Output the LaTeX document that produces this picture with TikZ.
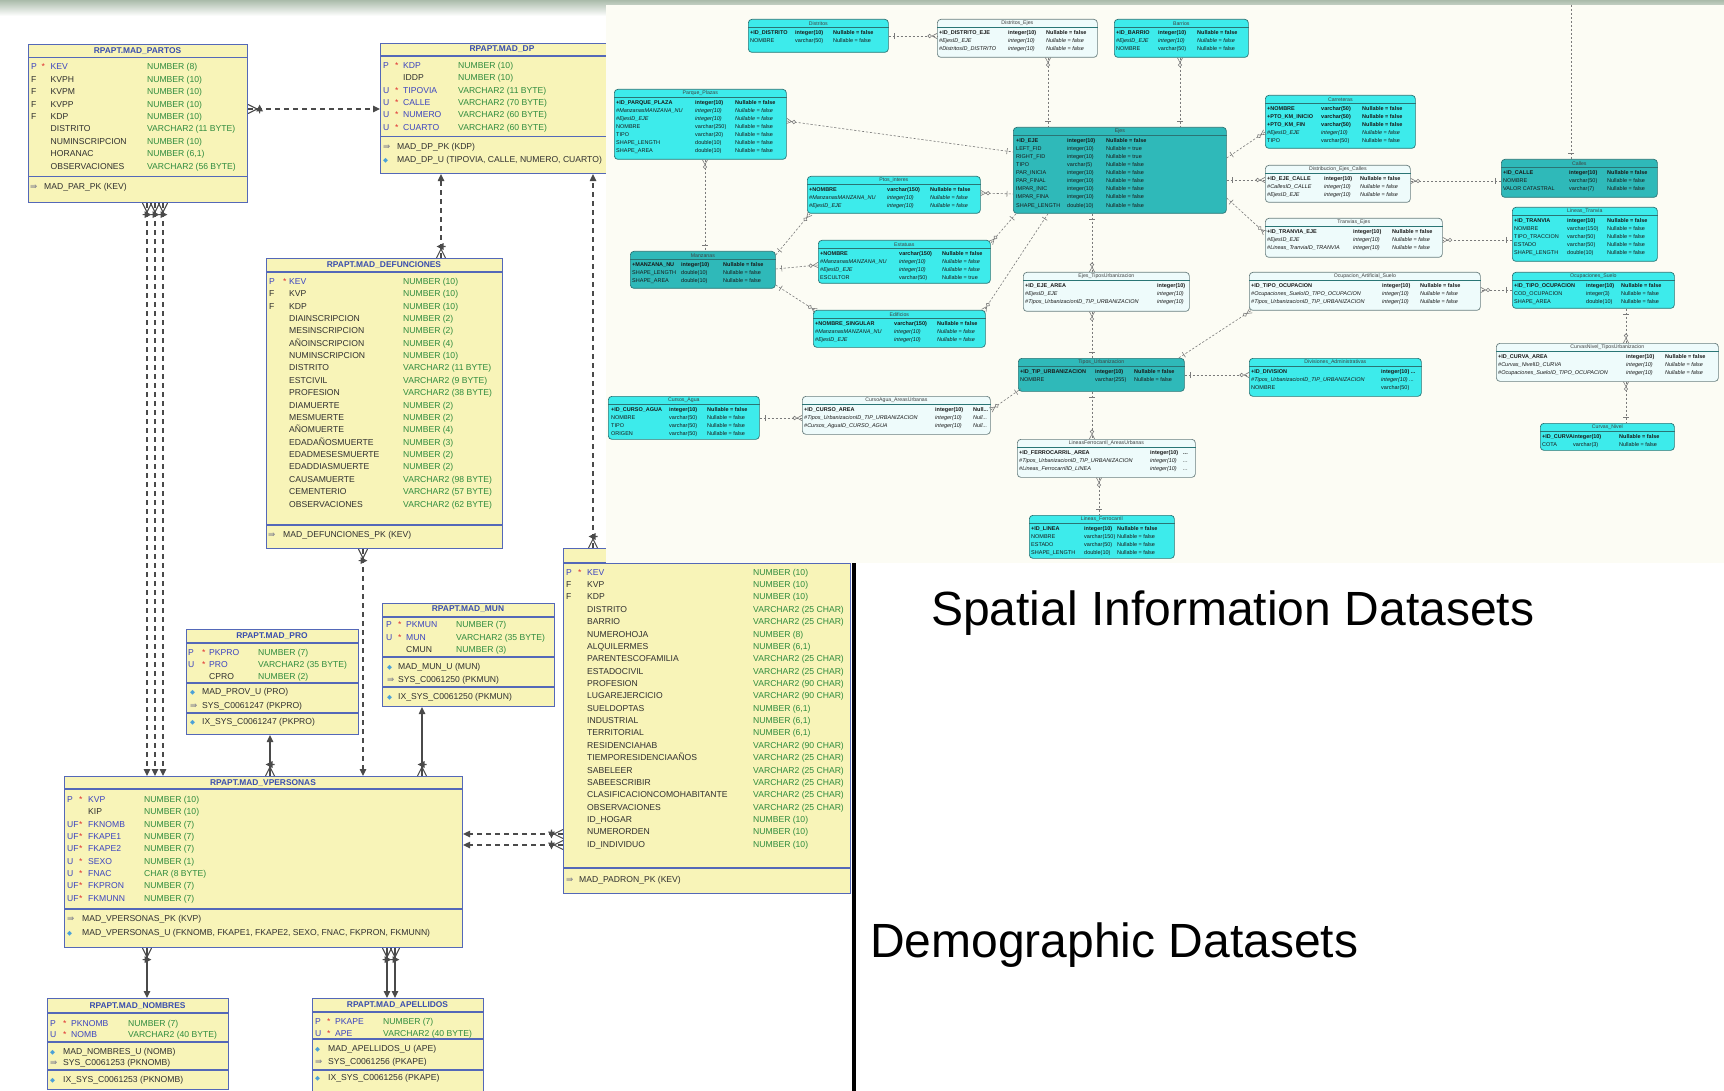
\documentclass[tikz,border=0pt]{standalone}
\usepackage{fontspec}
\setmainfont{Liberation Sans}
\newfontfamily\dvfont{DejaVu Sans}
\usetikzlibrary{arrows.meta,decorations.markings}
\definecolor{yfill}{HTML}{F8F4B8}
\definecolor{ybord}{HTML}{5468B8}
\definecolor{tblue}{HTML}{3A4EAE}
\definecolor{kblue}{HTML}{3C44C0}
\definecolor{tgreen}{HTML}{2E8B3E}
\definecolor{nblack}{HTML}{303030}
\definecolor{sred}{HTML}{E03030}
\definecolor{lcol}{HTML}{4A4A4A}
\definecolor{panel}{HTML}{FCFCF4}
\definecolor{topg}{HTML}{AABBAA}
\definecolor{cbr}{HTML}{3DEBEB}
\definecolor{cdk}{HTML}{2FB9B9}
\definecolor{clt}{HTML}{EEFBFB}
\definecolor{cbd}{HTML}{2A7575}
\definecolor{cltb}{HTML}{6A8080}
\definecolor{rline}{HTML}{7A7A7A}
\definecolor{pkgray}{HTML}{7A7A8A}
\definecolor{ublue}{HTML}{4AA0D8}
\newlength\ylA \newlength\ylB \newlength\ylC \newlength\clA \newlength\clB \newlength\ixW
\newcommand\ysetw[3]{\global\ylA=#1pt\relax\global\ylB=#2pt\relax\global\ylC=#3pt\relax}
\newcommand\isetw[1]{\global\ixW=#1pt\relax}
\newcommand\yr[4]{\strut\makebox[\ylA][l]{#1}\makebox[\ylB][l]{#2}\makebox[\ylC][l]{#3}\textcolor{tgreen}{#4}}
\newcommand\kP{\textcolor{kblue}{P}}
\newcommand\kU{\textcolor{kblue}{U}}
\newcommand\kF{\textcolor{nblack}{F}}
\newcommand\kUF{\textcolor{kblue}{UF}}
\newcommand\stR{\textcolor{sred}{*}}
\newcommand\kn[1]{\textcolor{kblue}{#1}}
\newcommand\nn[1]{\textcolor{nblack}{#1}}
\newcommand\ipk{{\dvfont\textcolor{pkgray}{⇛}}}
\newcommand\iu{{\dvfont\fontsize{6.5}{6.5}\selectfont\textcolor{ublue}{◆}}}
\newcommand\ix[2]{\strut\makebox[\ixW][l]{#1}\textcolor{nblack}{#2}}
\newcommand\cnr[3]{\strut\makebox[\clA][l]{#1}\makebox[\clB][l]{#2}#3}
\newcommand\cbf[3]{\strut\makebox[\clA][l]{\bfseries #1}\makebox[\clB][l]{\bfseries #2}{\bfseries #3}}
\newcommand\cit[3]{\strut\makebox[\clA][l]{\itshape #1}\makebox[\clB][l]{\itshape #2}{\itshape #3}}
\newcommand\ctab[7]{\node[#6, minimum width=#4pt, minimum height=#5pt] (#1) at (#2,#3) {};
  \node[ctitle, yshift=-4.5pt] (#1-t) at (#1.north) {#7};
  \draw[csep] ([yshift=-8.5pt]#1.north west) -- ([yshift=-8.5pt]#1.north east);}
\newcommand\crows[6]{\global\clA=#4pt\relax\global\clB=#5pt\relax\node[cbody] (#1-b) at (#2,#3) {#6};}
\tikzset{
  ybox/.style={draw=ybord, fill=yfill, line width=1.1pt, inner sep=0pt, anchor=north west},
  ysep/.style={draw=ybord, line width=1.1pt},
  ytitle/.style={font=\fontsize{8.4}{10}\selectfont\bfseries, text=tblue, inner sep=0pt},
  ybody/.style={anchor=north west, inner sep=0pt, align=left, font=\fontsize{8.6}{12.38}\selectfont},
  yidx/.style={anchor=north west, inner sep=0pt, align=left},
  lcon/.style={draw=lcol, line width=1.2pt, dash pattern=on 5pt off 4pt},
  lsol/.style={draw=lcol, line width=1.2pt},
  arrowend/.style={-{Triangle[length=7pt,width=6.5pt]}},
  cfs/.style={postaction={decorate,decoration={markings,mark=at position 0 with {\draw[solid,draw=lcol,line width=1.1pt] (9,0)--(0,4.5) (9,0)--(0,-4.5) (11.5,4.5)--(11.5,-4.5);}}}},
  cbright/.style={draw=cbd, fill=cbr, rounded corners=3.5pt, line width=.7pt, inner sep=0pt, anchor=north west},
  cdark/.style={draw=cbd, fill=cdk, rounded corners=3.5pt, line width=.7pt, inner sep=0pt, anchor=north west},
  clight/.style={draw=cltb, fill=clt, rounded corners=3.5pt, line width=.7pt, inner sep=0pt, anchor=north west},
  ctitle/.style={font=\fontsize{5.2}{6}\selectfont, text=black!75, inner sep=0pt},
  csep/.style={draw=cbd, line width=.5pt},
  cbody/.style={anchor=north west, inner sep=0pt, align=left, font=\fontsize{5.5}{8.05}\selectfont, text=black!90},
  rcon/.style={draw=rline, line width=.6pt, dash pattern=on 2.2pt off 1.8pt},
  r1s/.style={postaction={decorate,decoration={markings,mark=at position 0 with {\draw[solid,draw=rline,line width=.6pt] (6,3)--(6,-3);}}}},
  r1e/.style={postaction={decorate,decoration={markings,mark=at position 1 with {\draw[solid,draw=rline,line width=.6pt] (-6,3)--(-6,-3);}}}},
  rMs/.style={postaction={decorate,decoration={markings,mark=at position 0 with {\draw[solid,draw=rline,line width=.6pt] (5,0)--(0,2.6) (5,0)--(0,-2.6); \draw[solid,draw=rline,fill=panel,line width=.6pt] (7.3,0) circle[radius=1.8pt];}}}},
  rMe/.style={postaction={decorate,decoration={markings,mark=at position 1 with {\draw[solid,draw=rline,line width=.6pt] (-5,0)--(0,2.6) (-5,0)--(0,-2.6); \draw[solid,draw=rline,fill=panel,line width=.6pt] (-7.3,0) circle[radius=1.8pt];}}}},
  bigtext/.style={font=\fontsize{48}{56}\selectfont, inner sep=0pt, anchor=base west, text=black},
}
\begin{document}
\catcode`\_=12
\begin{tikzpicture}[x=1pt,y=-1pt]
\useasboundingbox (0,0) rectangle (1724,1091);
\fill[white] (0,0) rectangle (1724,1091);
\shade[top color=topg, bottom color=white] (0,0) rectangle (1724,16);

% ---------------- MAD_PARTOS
\node[ybox, minimum width=219pt, minimum height=158pt] (partos) at (28,44) {};
\node[ytitle] (partos-t) at (137.5,50.7) {RPAPT.MAD_PARTOS};
\draw[ysep] (28,57.3) -- (247,57.3);
\draw[ysep] (28,176.7) -- (247,176.7);
\ysetw{10.5}{9}{96.4}
\node[ybody] (partos-b) at (31,61.1) {%
\yr{\kP}{\stR}{\kn{KEV}}{NUMBER (8)}\\
\yr{\kF}{}{\nn{KVPH}}{NUMBER (10)}\\
\yr{\kF}{}{\nn{KVPM}}{NUMBER (10)}\\
\yr{\kF}{}{\nn{KVPP}}{NUMBER (10)}\\
\yr{\kF}{}{\nn{KDP}}{NUMBER (10)}\\
\yr{}{}{\nn{DISTRITO}}{VARCHAR2 (11 BYTE)}\\
\yr{}{}{\nn{NUMINSCRIPCION}}{NUMBER (10)}\\
\yr{}{}{\nn{HORANAC}}{NUMBER (6,1)}\\
\yr{}{}{\nn{OBSERVACIONES}}{VARCHAR2 (56 BYTE)}};
\isetw{14}
\node[yidx, font=\fontsize{8.6}{13}\selectfont] (partos-i) at (30,180) {\ix{\ipk}{MAD_PAR_PK (KEV)}};

% ---------------- MAD_DP
\node[ybox, minimum width=244pt, minimum height=130pt] (dp) at (380,43) {};
\node[ytitle] (dp-t) at (502,49) {RPAPT.MAD_DP};
\draw[ysep] (380,56) -- (624,56);
\draw[ysep] (380,136.7) -- (624,136.7);
\ysetw{12}{8}{55}
\node[ybody] (dp-b) at (383,59.4) {%
\yr{\kP}{\stR}{\kn{KDP}}{NUMBER (10)}\\
\yr{}{}{\nn{IDDP}}{NUMBER (10)}\\
\yr{\kU}{\stR}{\kn{TIPOVIA}}{VARCHAR2 (11 BYTE)}\\
\yr{\kU}{\stR}{\kn{CALLE}}{VARCHAR2 (70 BYTE)}\\
\yr{\kU}{\stR}{\kn{NUMERO}}{VARCHAR2 (60 BYTE)}\\
\yr{\kU}{\stR}{\kn{CUARTO}}{VARCHAR2 (60 BYTE)}};
\isetw{14}
\node[yidx, font=\fontsize{8.6}{12.3}\selectfont] (dp-i) at (383,141) {\ix{\ipk}{MAD_DP_PK (KDP)}\\\ix{\iu}{MAD_DP_U (TIPOVIA, CALLE, NUMERO, CUARTO)}};

% ---------------- MAD_DEFUNCIONES
\node[ybox, minimum width=236pt, minimum height=290pt] (defunc) at (266,258) {};
\node[ytitle] (defunc-t) at (384,265) {RPAPT.MAD_DEFUNCIONES};
\draw[ysep] (266,272) -- (502,272);
\draw[ysep] (266,525) -- (502,525);
\ysetw{14}{6}{114}
\node[ybody] (defunc-b) at (269,275.4) {%
\yr{\kP}{\stR}{\kn{KEV}}{NUMBER (10)}\\
\yr{\kF}{}{\nn{KVP}}{NUMBER (10)}\\
\yr{\kF}{}{\nn{KDP}}{NUMBER (10)}\\
\yr{}{}{\nn{DIAINSCRIPCION}}{NUMBER (2)}\\
\yr{}{}{\nn{MESINSCRIPCION}}{NUMBER (2)}\\
\yr{}{}{\nn{AÑOINSCRIPCION}}{NUMBER (4)}\\
\yr{}{}{\nn{NUMINSCRIPCION}}{NUMBER (10)}\\
\yr{}{}{\nn{DISTRITO}}{VARCHAR2 (11 BYTE)}\\
\yr{}{}{\nn{ESTCIVIL}}{VARCHAR2 (9 BYTE)}\\
\yr{}{}{\nn{PROFESION}}{VARCHAR2 (38 BYTE)}\\
\yr{}{}{\nn{DIAMUERTE}}{NUMBER (2)}\\
\yr{}{}{\nn{MESMUERTE}}{NUMBER (2)}\\
\yr{}{}{\nn{AÑOMUERTE}}{NUMBER (4)}\\
\yr{}{}{\nn{EDADAÑOSMUERTE}}{NUMBER (3)}\\
\yr{}{}{\nn{EDADMESESMUERTE}}{NUMBER (2)}\\
\yr{}{}{\nn{EDADDIASMUERTE}}{NUMBER (2)}\\
\yr{}{}{\nn{CAUSAMUERTE}}{VARCHAR2 (98 BYTE)}\\
\yr{}{}{\nn{CEMENTERIO}}{VARCHAR2 (57 BYTE)}\\
\yr{}{}{\nn{OBSERVACIONES}}{VARCHAR2 (62 BYTE)}};
\isetw{15}
\node[yidx, font=\fontsize{8.6}{13}\selectfont] (defunc-i) at (268,528) {\ix{\ipk}{MAD_DEFUNCIONES_PK (KEV)}};

% ---------------- MAD_PRO
\node[ybox, minimum width=172pt, minimum height=105pt] (pro) at (186,629) {};
\node[ytitle] (pro-t) at (272,636) {RPAPT.MAD_PRO};
\draw[ysep] (186,643) -- (358,643);
\draw[ysep] (186,683) -- (358,683);
\draw[ysep] (186,713) -- (358,713);
\ysetw{14}{7}{49}
\node[ybody, font=\fontsize{8.6}{12}\selectfont] (pro-b) at (188,646.7) {%
\yr{\kP}{\stR}{\kn{PKPRO}}{NUMBER (7)}\\
\yr{\kU}{\stR}{\kn{PRO}}{VARCHAR2 (35 BYTE)}\\
\yr{}{}{\nn{CPRO}}{NUMBER (2)}};
\isetw{12}
\node[yidx, font=\fontsize{8.6}{14}\selectfont] (pro-i) at (190,684.3) {\ix{\iu}{MAD_PROV_U (PRO)}\\\ix{\ipk}{SYS_C0061247 (PKPRO)}};
\node[yidx, font=\fontsize{8.6}{13}\selectfont] (pro-j) at (190,715) {\ix{\iu}{IX_SYS_C0061247 (PKPRO)}};

% ---------------- MAD_MUN
\node[ybox, minimum width=172pt, minimum height=103pt] (mun) at (382,603) {};
\node[ytitle] (mun-t) at (468,609) {RPAPT.MAD_MUN};
\draw[ysep] (382,617) -- (554,617);
\draw[ysep] (382,657) -- (554,657);
\draw[ysep] (382,687) -- (554,687);
\ysetw{12}{8}{50}
\node[ybody, font=\fontsize{8.6}{12.6}\selectfont] (mun-b) at (386,618.6) {%
\yr{\kP}{\stR}{\kn{PKMUN}}{NUMBER (7)}\\
\yr{\kU}{\stR}{\kn{MUN}}{VARCHAR2 (35 BYTE)}\\
\yr{}{}{\nn{CMUN}}{NUMBER (3)}};
\isetw{11}
\node[yidx, font=\fontsize{8.6}{13}\selectfont] (mun-i) at (387,660) {\ix{\iu}{MAD_MUN_U (MUN)}\\\ix{\ipk}{SYS_C0061250 (PKMUN)}};
\node[yidx, font=\fontsize{8.6}{13}\selectfont] (mun-j) at (387,690) {\ix{\iu}{IX_SYS_C0061250 (PKMUN)}};

% ---------------- MAD_PADRON
\node[ybox, minimum width=287pt, minimum height=345pt] (padron) at (563,548) {};
\draw[ysep] (563,563) -- (850,563);
\draw[ysep] (563,868) -- (850,868);
\ysetw{12}{9}{166}
\node[ybody, font=\fontsize{8.6}{12.36}\selectfont] (padron-b) at (566,566.4) {%
\yr{\kP}{\stR}{\kn{KEV}}{NUMBER (10)}\\
\yr{\kF}{}{\nn{KVP}}{NUMBER (10)}\\
\yr{\kF}{}{\nn{KDP}}{NUMBER (10)}\\
\yr{}{}{\nn{DISTRITO}}{VARCHAR2 (25 CHAR)}\\
\yr{}{}{\nn{BARRIO}}{VARCHAR2 (25 CHAR)}\\
\yr{}{}{\nn{NUMEROHOJA}}{NUMBER (8)}\\
\yr{}{}{\nn{ALQUILERMES}}{NUMBER (6,1)}\\
\yr{}{}{\nn{PARENTESCOFAMILIA}}{VARCHAR2 (25 CHAR)}\\
\yr{}{}{\nn{ESTADOCIVIL}}{VARCHAR2 (25 CHAR)}\\
\yr{}{}{\nn{PROFESION}}{VARCHAR2 (90 CHAR)}\\
\yr{}{}{\nn{LUGAREJERCICIO}}{VARCHAR2 (90 CHAR)}\\
\yr{}{}{\nn{SUELDOPTAS}}{NUMBER (6,1)}\\
\yr{}{}{\nn{INDUSTRIAL}}{NUMBER (6,1)}\\
\yr{}{}{\nn{TERRITORIAL}}{NUMBER (6,1)}\\
\yr{}{}{\nn{RESIDENCIAHAB}}{VARCHAR2 (90 CHAR)}\\
\yr{}{}{\nn{TIEMPORESIDENCIAAÑOS}}{VARCHAR2 (25 CHAR)}\\
\yr{}{}{\nn{SABELEER}}{VARCHAR2 (25 CHAR)}\\
\yr{}{}{\nn{SABEESCRIBIR}}{VARCHAR2 (25 CHAR)}\\
\yr{}{}{\nn{CLASIFICACIONCOMOHABITANTE}}{VARCHAR2 (25 CHAR)}\\
\yr{}{}{\nn{OBSERVACIONES}}{VARCHAR2 (25 CHAR)}\\
\yr{}{}{\nn{ID_HOGAR}}{NUMBER (10)}\\
\yr{}{}{\nn{NUMERORDEN}}{NUMBER (10)}\\
\yr{}{}{\nn{ID_INDIVIDUO}}{NUMBER (10)}};
\isetw{13}
\node[yidx, font=\fontsize{8.6}{13}\selectfont] (padron-i) at (566,873) {\ix{\ipk}{MAD_PADRON_PK (KEV)}};

% ---------------- MAD_VPERSONAS
\node[ybox, minimum width=398pt, minimum height=171pt] (vpers) at (64,776) {};
\node[ytitle] (vpers-t) at (263,783) {RPAPT.MAD_VPERSONAS};
\draw[ysep] (64,789) -- (462,789);
\draw[ysep] (64,909) -- (462,909);
\ysetw{12}{9}{56}
\node[ybody] (vpers-b) at (67,793.4) {%
\yr{\kP}{\stR}{\kn{KVP}}{NUMBER (10)}\\
\yr{}{}{\nn{KIP}}{NUMBER (10)}\\
\yr{\kUF}{\stR}{\kn{FKNOMB}}{NUMBER (7)}\\
\yr{\kUF}{\stR}{\kn{FKAPE1}}{NUMBER (7)}\\
\yr{\kUF}{\stR}{\kn{FKAPE2}}{NUMBER (7)}\\
\yr{\kU}{\stR}{\kn{SEXO}}{NUMBER (1)}\\
\yr{\kU}{\stR}{\kn{FNAC}}{CHAR (8 BYTE)}\\
\yr{\kUF}{\stR}{\kn{FKPRON}}{NUMBER (7)}\\
\yr{\kUF}{\stR}{\kn{FKMUNN}}{NUMBER (7)}};
\isetw{15}
\node[yidx, font=\fontsize{8.6}{14}\selectfont] (vpers-i) at (67,911.3) {\ix{\ipk}{MAD_VPERSONAS_PK (KVP)}\\\ix{\iu}{MAD_VPERSONAS_U (FKNOMB, FKAPE1, FKAPE2, SEXO, FNAC, FKPRON, FKMUNN)}};

% ---------------- MAD_NOMBRES
\node[ybox, minimum width=181pt, minimum height=91pt] (nomb) at (47,998) {};
\node[ytitle] (nomb-t) at (137.5,1006) {RPAPT.MAD_NOMBRES};
\draw[ysep] (47,1013) -- (228,1013);
\draw[ysep] (47,1042) -- (228,1042);
\draw[ysep] (47,1070) -- (228,1070);
\ysetw{13}{8}{57}
\node[ybody, font=\fontsize{8.6}{11.5}\selectfont] (nomb-b) at (50,1018) {%
\yr{\kP}{\stR}{\kn{PKNOMB}}{NUMBER (7)}\\
\yr{\kU}{\stR}{\kn{NOMB}}{VARCHAR2 (40 BYTE)}};
\isetw{13}
\node[yidx, font=\fontsize{8.6}{11}\selectfont] (nomb-i) at (50,1046.4) {\ix{\iu}{MAD_NOMBRES_U (NOMB)}\\\ix{\ipk}{SYS_C0061253 (PKNOMB)}};
\node[yidx, font=\fontsize{8.6}{13}\selectfont] (nomb-j) at (50,1073) {\ix{\iu}{IX_SYS_C0061253 (PKNOMB)}};

% ---------------- MAD_APELLIDOS
\node[ybox, minimum width=171pt, minimum height=100pt] (apell) at (312,998) {};
\node[ytitle] (apell-t) at (397.5,1005) {RPAPT.MAD_APELLIDOS};
\draw[ysep] (312,1012) -- (483,1012);
\draw[ysep] (312,1039) -- (483,1039);
\draw[ysep] (312,1070) -- (483,1070);
\ysetw{12}{8}{48}
\node[ybody, font=\fontsize{8.6}{12}\selectfont] (apell-b) at (315,1015.7) {%
\yr{\kP}{\stR}{\kn{PKAPE}}{NUMBER (7)}\\
\yr{\kU}{\stR}{\kn{APE}}{VARCHAR2 (40 BYTE)}};
\isetw{13}
\node[yidx, font=\fontsize{8.6}{13}\selectfont] (apell-i) at (315,1042) {\ix{\iu}{MAD_APELLIDOS_U (APE)}\\\ix{\ipk}{SYS_C0061256 (PKAPE)}};
\node[yidx, font=\fontsize{8.6}{13}\selectfont] (apell-j) at (315,1071) {\ix{\iu}{IX_SYS_C0061256 (PKAPE)}};

% ---------------- left connectors
\draw[lcon, arrowend, cfs] ([yshift=-65pt]partos.north east) -- ([yshift=-66pt]dp.north west);
\draw[lcon, arrowend, cfs] ([xshift=119pt]partos.south west) -- ([xshift=83pt]vpers.north west);
\draw[lcon, arrowend, cfs] ([xshift=127pt]partos.south west) -- ([xshift=91pt]vpers.north west);
\draw[lcon, arrowend, cfs] ([xshift=135pt]partos.south west) -- ([xshift=99pt]vpers.north west);
\draw[lcon, arrowend, cfs] ([xshift=175pt]defunc.north west) -- ([xshift=61pt]dp.south west);
\draw[lcon, arrowend, cfs] ([xshift=30pt]padron.north west) -- ([xshift=213pt]dp.south west);
\draw[lcon, arrowend, cfs] ([xshift=97pt]defunc.south west) -- ([xshift=299pt]vpers.north west);
\draw[lsol, arrowend, cfs] ([xshift=206pt]vpers.north west) -- ([xshift=84pt]pro.south west);
\draw[lsol, arrowend, cfs] ([xshift=358pt]vpers.north west) -- ([xshift=40pt]mun.south west);
\draw[lsol, arrowend, cfs] ([xshift=83pt]vpers.south west) -- ([xshift=100pt]nomb.north west);
\draw[lsol, arrowend, cfs] ([xshift=323pt]vpers.south west) -- ([xshift=75pt]apell.north west);
\draw[lsol, arrowend, cfs] ([xshift=331pt]vpers.south west) -- ([xshift=83pt]apell.north west);
\draw[lcon, arrowend, cfs] ([yshift=-286pt]padron.north west) -- ([yshift=-58pt]vpers.north east);
\draw[lcon, arrowend, cfs] ([yshift=-297pt]padron.north west) -- ([yshift=-69pt]vpers.north east);

% ---------------- spatial panel
\fill[panel] (606,5) rectangle (1724,563);

\ctab{distritos}{748}{19}{140}{33}{cbright}{Distritos}
\crows{distritos}{750}{28.8}{45}{38}{\cbf{+ID_DISTRITO}{integer(10)}{Nullable = false}\\\cnr{NOMBRE}{varchar(50)}{Nullable = false}}
\ctab{dejes}{937}{19}{160}{38}{clight}{Distritos_Ejes}
\crows{dejes}{939}{28.8}{69}{38}{\cbf{+ID_DISTRITO_EJE}{integer(10)}{Nullable = false}\\\cit{\#EjesID_EJE}{integer(10)}{Nullable = false}\\\cit{\#DistritosID_DISTRITO}{integer(10)}{Nullable = false}}
\ctab{barrios}{1114}{19}{134}{38}{cbright}{Barrios}
\crows{barrios}{1116}{28.8}{42}{39}{\cbf{+ID_BARRIO}{integer(10)}{Nullable = false}\\\cit{\#EjesID_EJE}{integer(10)}{Nullable = false}\\\cnr{NOMBRE}{varchar(50)}{Nullable = false}}
\ctab{parque}{614}{89}{172}{70}{cbright}{Parque_Plazas}
\crows{parque}{616}{98.8}{79}{40}{\cbf{+ID_PARQUE_PLAZA}{integer(10)}{Nullable = false}\\\cit{\#ManzanasMANZANA_NU}{integer(10)}{Nullable = false}\\\cit{\#EjesID_EJE}{integer(10)}{Nullable = false}\\\cnr{NOMBRE}{varchar(250)}{Nullable = false}\\\cnr{TIPO}{varchar(20)}{Nullable = false}\\\cnr{SHAPE_LENGTH}{double(10)}{Nullable = false}\\\cnr{SHAPE_AREA}{double(10)}{Nullable = false}}
\ctab{ejes}{1013}{127}{213}{86}{cdark}{Ejes}
\crows{ejes}{1016}{136.8}{51}{39}{\cbf{+ID_EJE}{integer(10)}{Nullable = false}\\\cnr{LEFT_FID}{integer(10)}{Nullable = true}\\\cnr{RIGHT_FID}{integer(10)}{Nullable = true}\\\cnr{TIPO}{varchar(5)}{Nullable = false}\\\cnr{PAR_INICIA}{integer(10)}{Nullable = false}\\\cnr{PAR_FINAL}{integer(10)}{Nullable = false}\\\cnr{IMPAR_INIC}{integer(10)}{Nullable = false}\\\cnr{IMPAR_FINA}{integer(10)}{Nullable = false}\\\cnr{SHAPE_LENGTH}{double(10)}{Nullable = false}}
\ctab{carr}{1265}{95}{150}{53}{cbright}{Carreteras}
\crows{carr}{1267}{104.8}{54}{41}{\cbf{+NOMBRE}{varchar(50)}{Nullable = false}\\\cbf{+PTO_KM_INICIO}{varchar(50)}{Nullable = false}\\\cbf{+PTO_KM_FIN}{varchar(50)}{Nullable = false}\\\cit{\#EjesID_EJE}{integer(10)}{Nullable = false}\\\cnr{TIPO}{varchar(50)}{Nullable = false}}
\ctab{dec}{1265}{165}{145}{37}{clight}{Distribucion_Ejes_Calles}
\crows{dec}{1267}{174.8}{57}{36}{\cbf{+ID_EJE_CALLE}{integer(10)}{Nullable = false}\\\cit{\#CallesID_CALLE}{integer(10)}{Nullable = false}\\\cit{\#EjesID_EJE}{integer(10)}{Nullable = false}}
\ctab{tejes}{1265}{218}{177}{39}{clight}{Tranvias_Ejes}
\crows{tejes}{1267}{227.8}{86}{39}{\cbf{+ID_TRANVIA_EJE}{integer(10)}{Nullable = false}\\\cit{\#EjesID_EJE}{integer(10)}{Nullable = false}\\\cit{\#Lineas_TranviaID_TRANVIA}{integer(10)}{Nullable = false}}
\ctab{calles}{1501}{159}{156}{38}{cdark}{Calles}
\crows{calles}{1503}{168.8}{66}{38}{\cbf{+ID_CALLE}{integer(10)}{Nullable = false}\\\cnr{NOMBRE}{varchar(50)}{Nullable = false}\\\cnr{VALOR CATASTRAL}{varchar(7)}{Nullable = false}}
\ctab{ltranvia}{1512}{207}{145}{54}{cbright}{Lineas_Tranvia}
\crows{ltranvia}{1514}{216.8}{53}{40}{\cbf{+ID_TRANVIA}{integer(10)}{Nullable = false}\\\cnr{NOMBRE}{varchar(150)}{Nullable = false}\\\cnr{TIPO_TRACCION}{varchar(50)}{Nullable = false}\\\cnr{ESTADO}{varchar(50)}{Nullable = false}\\\cnr{SHAPE_LENGTH}{double(10)}{Nullable = false}}
\ctab{ptos}{807}{176}{173}{37}{cbright}{Ptos_interes}
\crows{ptos}{809}{185.8}{78}{43}{\cbf{+NOMBRE}{varchar(150)}{Nullable = false}\\\cit{\#ManzanasMANZANA_NU}{integer(10)}{Nullable = false}\\\cit{\#EjesID_EJE}{integer(10)}{Nullable = false}}
\ctab{estatuas}{818}{240}{172}{43}{cbright}{Estatuas}
\crows{estatuas}{820}{249.8}{79}{43}{\cbf{+NOMBRE}{varchar(150)}{Nullable = false}\\\cit{\#ManzanasMANZANA_NU}{integer(10)}{Nullable = false}\\\cit{\#EjesID_EJE}{integer(10)}{Nullable = false}\\\cnr{ESCULTOR}{varchar(50)}{Nullable = true}}
\ctab{manz}{630}{251}{145}{37}{cdark}{Manzanas}
\crows{manz}{632}{260.8}{49}{42}{\cbf{+MANZANA_NU}{integer(10)}{Nullable = false}\\\cnr{SHAPE_LENGTH}{double(10)}{Nullable = false}\\\cnr{SHAPE_AREA}{double(10)}{Nullable = false}}
\ctab{edif}{813}{310}{172}{37}{cbright}{Edificios}
\crows{edif}{815}{319.8}{79}{43}{\cbf{+NOMBRE_SINGULAR}{varchar(150)}{Nullable = false}\\\cit{\#ManzanasMANZANA_NU}{integer(10)}{Nullable = false}\\\cit{\#EjesID_EJE}{integer(10)}{Nullable = false}}
\ctab{etu}{1023}{272}{166}{39}{clight}{Ejes_TiposUrbanizacion}
\crows{etu}{1025}{281.8}{132}{30}{\cbf{+ID_EJE_AREA}{integer(10)}{}\\\cit{\#EjesID_EJE}{integer(10)}{}\\\cit{\#Tipos_UrbanizacionID_TIP_URBANIZACION}{integer(10)}{}}
\ctab{turb}{1018}{358}{166}{33}{cdark}{Tipos_Urbanizacion}
\crows{turb}{1020}{367.8}{75}{39}{\cbf{+ID_TIP_URBANIZACION}{integer(10)}{Nullable = false}\\\cnr{NOMBRE}{varchar(255)}{Nullable = false}}
\ctab{oart}{1249}{272}{231}{38}{clight}{Ocupacion_Artificial_Suelo}
\crows{oart}{1251}{281.8}{131}{38}{\cbf{+ID_TIPO_OCUPACION}{integer(10)}{Nullable = false}\\\cit{\#Ocupaciones_SueloID_TIPO_OCUPACION}{integer(10)}{Nullable = false}\\\cit{\#Tipos_UrbanizacionID_TIP_URBANIZACION}{integer(10)}{Nullable = false}}
\ctab{osuelo}{1512}{272}{162}{36}{cbright}{Ocupaciones_Suelo}
\crows{osuelo}{1514}{281.8}{72}{35}{\cbf{+ID_TIPO_OCUPACION}{integer(10)}{Nullable = false}\\\cnr{COD_OCUPACION}{integer(3)}{Nullable = false}\\\cnr{SHAPE_AREA}{double(10)}{Nullable = false}}
\ctab{divis}{1249}{358}{172}{38}{cbright}{Divisiones_Administrativas}
\crows{divis}{1251}{367.8}{130}{35}{\cbf{+ID_DIVISION}{integer(10) ...}{}\\\cit{\#Tipos_UrbanizacionID_TIP_URBANIZACION}{integer(10) ...}{}\\\cnr{NOMBRE}{varchar(50)}{}}
\ctab{cntu}{1496}{343}{222}{38}{clight}{CurvasNivel_TiposUrbanizacion}
\crows{cntu}{1498}{352.8}{128}{39}{\cbf{+ID_CURVA_AREA}{integer(10)}{Nullable = false}\\\cit{\#Curvas_NivelID_CURVA}{integer(10)}{Nullable = false}\\\cit{\#Ocupaciones_SueloID_TIPO_OCUPACION}{integer(10)}{Nullable = false}}
\ctab{cnivel}{1540}{423}{134}{27}{cbright}{Curvas_Nivel}
\crows{cnivel}{1542}{432.8}{31}{46}{\cbf{+ID_CURVA}{integer(10)}{Nullable = false}\\\cnr{COTA}{varchar(3)}{Nullable = false}}
\ctab{cagua}{608}{396}{151}{43}{cbright}{Cursos_Agua}
\crows{cagua}{611}{405.8}{58}{38}{\cbf{+ID_CURSO_AGUA}{integer(10)}{Nullable = false}\\\cnr{NOMBRE}{varchar(50)}{Nullable = false}\\\cnr{TIPO}{varchar(50)}{Nullable = false}\\\cnr{ORIGEN}{varchar(50)}{Nullable = false}}
\ctab{caau}{802}{396}{188}{38}{clight}{CursoAgua_AreasUrbanas}
\crows{caau}{804}{405.8}{131}{38}{\cbf{+ID_CURSO_AREA}{integer(10)}{Null...}\\\cit{\#Tipos_UrbanizacionID_TIP_URBANIZACION}{integer(10)}{Null...}\\\cit{\#Cursos_AguaID_CURSO_AGUA}{integer(10)}{Null...}}
\ctab{lfau}{1017}{439}{178}{38}{clight}{LineasFerrocarril_AreasUrbanas}
\crows{lfau}{1019}{448.8}{131}{33}{\cbf{+ID_FERROCARRIL_AREA}{integer(10)}{...}\\\cit{\#Tipos_UrbanizacionID_TIP_URBANIZACION}{integer(10)}{...}\\\cit{\#Lineas_FerrocarrilID_LINEA}{integer(10)}{...}}
\ctab{lferro}{1029}{515}{145}{43}{cbright}{Lineas_Ferrocarril}
\crows{lferro}{1031}{524.8}{53}{33}{\cbf{+ID_LINEA}{integer(10)}{Nullable = false}\\\cnr{NOMBRE}{varchar(150)}{Nullable = false}\\\cnr{ESTADO}{varchar(50)}{Nullable = false}\\\cnr{SHAPE_LENGTH}{double(10)}{Nullable = false}}

% ---------------- spatial connectors
\coordinate (topc) at (1571,5);
\draw[rcon, r1s, rMe] ([yshift=-17pt]distritos.north east) -- ([yshift=-17pt]dejes.north west);
\draw[rcon, rMs, r1e] ([xshift=111pt]dejes.south west) -- ([xshift=35pt]ejes.north west);
\draw[rcon, rMs, r1e] ([xshift=66pt]barrios.south west) -- ([xshift=167pt]ejes.north west);
\draw[rcon, rMs, r1e] ([yshift=-32pt]parque.north east) -- ([yshift=-25pt]ejes.north west);
\draw[rcon, rMs, r1e] ([xshift=91pt]parque.south west) -- ([xshift=75pt]manz.north west);
\draw[rcon, rMs, r1e] ([yshift=-17pt]ptos.north east) -- ([yshift=-67pt]ejes.north west);
\draw[rcon, r1s, rMe] ([yshift=-4pt]manz.north east) -- ([xshift=3pt]ptos.south west);
\draw[rcon, r1s, rMe] ([yshift=-18pt]manz.north east) -- ([yshift=-25pt]estatuas.north west);
\draw[rcon, r1s, rMe] ([yshift=-34pt]manz.north east) -- ([xshift=3pt,yshift=-1pt]edif.north west);
\draw[rcon, r1s, rMe] ([xshift=3pt]ejes.south west) -- ([yshift=-3pt]estatuas.north east);
\draw[rcon, r1s, rMe] ([xshift=35pt]ejes.south west) -- ([xshift=-2pt,yshift=-1pt]edif.north east);
\draw[rcon, r1s, rMe] ([xshift=79pt]ejes.south west) -- ([xshift=69pt]etu.north west);
\draw[rcon, r1s, rMe] ([yshift=-31pt]ejes.north east) -- ([yshift=-37pt]carr.north west);
\draw[rcon, r1s, rMe] ([yshift=-53pt]ejes.north east) -- ([yshift=-15pt]dec.north west);
\draw[rcon, r1s, rMe] ([yshift=-71pt]ejes.north east) -- ([yshift=-15pt]tejes.north west);
\draw[rcon, r1s, rMe] ([yshift=-22pt]calles.north west) -- ([yshift=-16pt]dec.north east);
\draw[rcon, r1s, rMe] ([yshift=-33pt]ltranvia.north west) -- ([yshift=-22pt]tejes.north east);
\draw[rcon, r1e] (topc) -- ([xshift=70pt]calles.north west);
\draw[rcon, rMs, r1e] ([xshift=69pt]etu.south west) -- ([xshift=74pt]turb.north west);
\draw[rcon, rMs, r1e] ([xshift=2pt]oart.south west) -- ([xshift=-6pt]turb.north east);
\draw[rcon, r1s, rMe] ([yshift=-18pt]osuelo.north west) -- ([yshift=-18pt]oart.north east);
\draw[rcon, r1s, rMe] ([xshift=114pt]osuelo.south west) -- ([xshift=130pt]cntu.north west);
\draw[rcon, rMs, r1e] ([xshift=130pt]cntu.south west) -- ([xshift=86pt]cnivel.north west);
\draw[rcon, r1s, rMe] ([yshift=-17pt]turb.north east) -- ([yshift=-17pt]divis.north west);
\draw[rcon, r1s, rMe] ([xshift=74pt]turb.south west) -- ([xshift=75pt]lfau.north west);
\draw[rcon, rMs, r1e] ([xshift=82pt]lfau.south west) -- ([xshift=70pt]lferro.north west);
\draw[rcon, r1s, rMe] ([yshift=-22pt]cagua.north east) -- ([yshift=-22pt]caau.north west);
\draw[rcon, rMs, r1e] ([yshift=-14pt]caau.north east) -- ([xshift=3pt,yshift=3pt]turb.south west);

% ---------------- divider and titles
\fill[black] (852,563) rectangle (856,1091);
\node[bigtext] (spatial) at (931,625) {Spatial Information Datasets};
\node[bigtext] (demog) at (870,957) {Demographic Datasets};
\end{tikzpicture}
\end{document}
